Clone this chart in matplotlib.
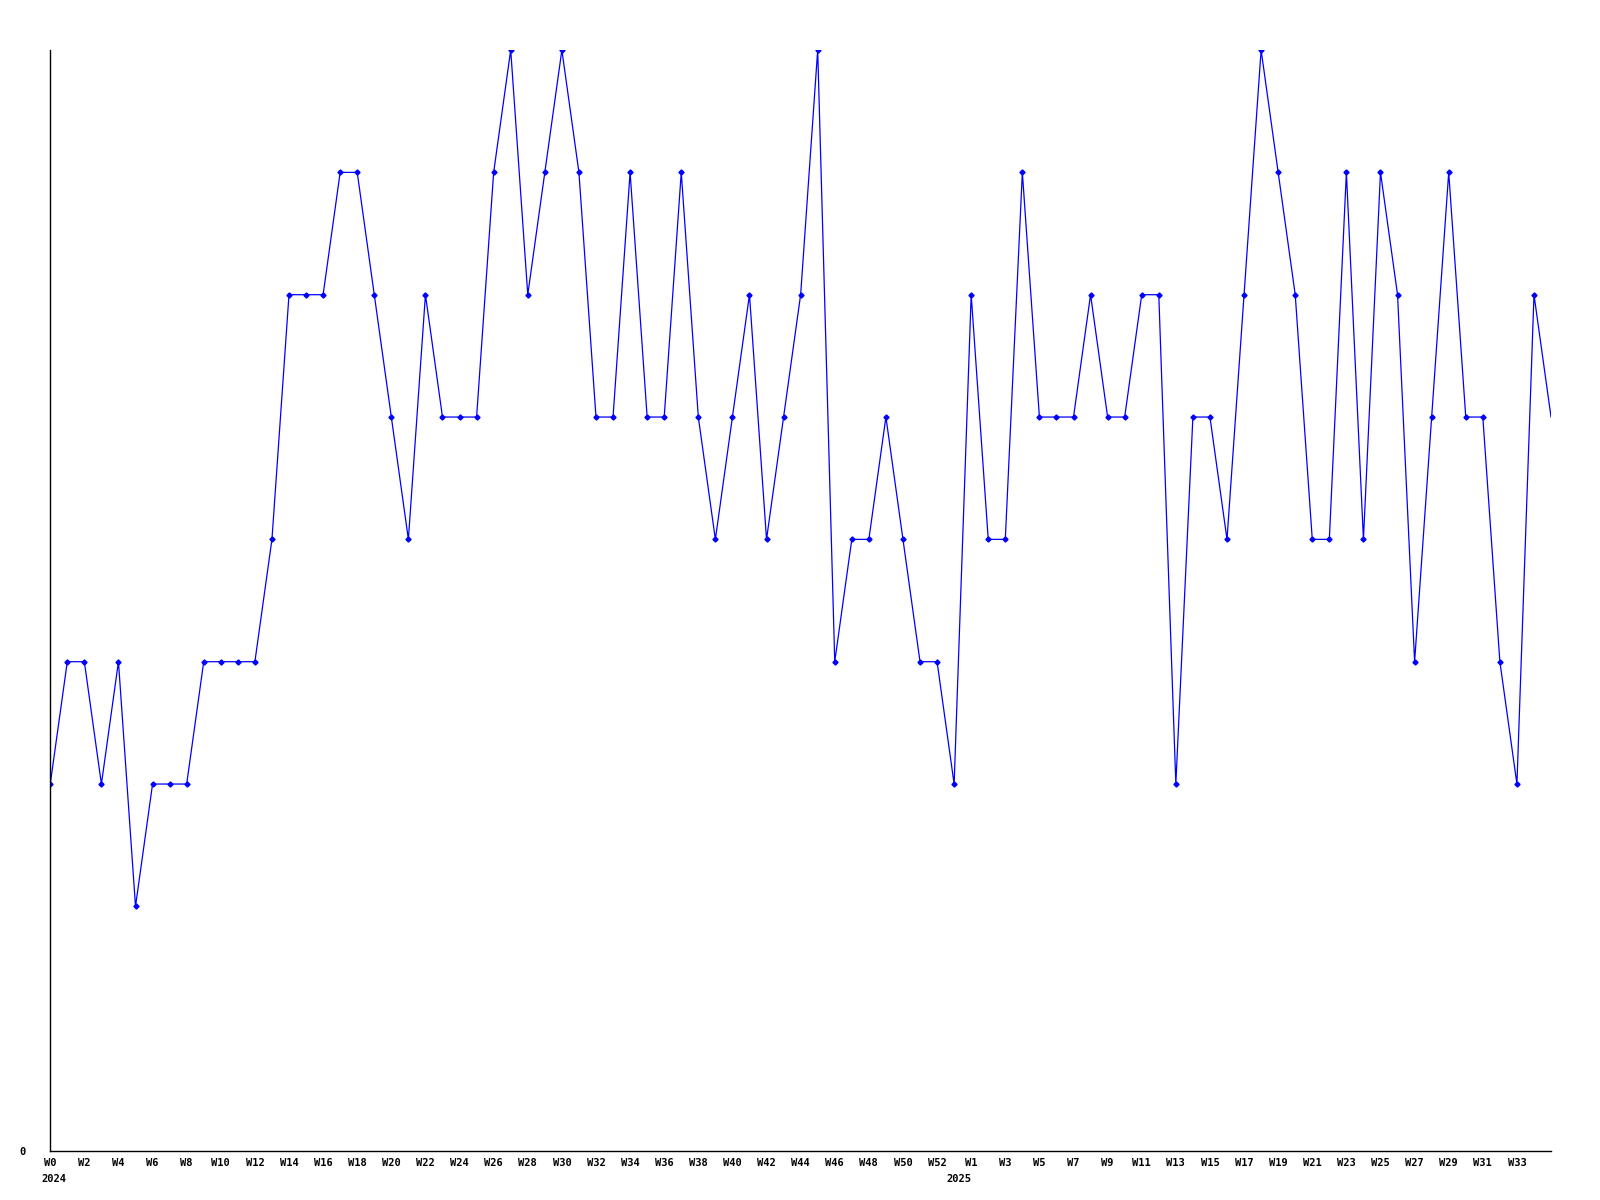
import matplotlib
matplotlib.use("Agg")
import matplotlib.pyplot as plt

# weekly values (index 0 = W0 2024 ... index 88 = W35 2025)
values = [3, 4, 4, 3, 4, 2, 3, 3, 3, 4, 4, 4, 4, 5, 7, 7, 7, 8, 8, 7,
          6, 5, 7, 6, 6, 6, 8, 9, 7, 8, 9, 8, 6, 6, 8, 6, 6, 8, 6, 5,
          6, 7, 5, 6, 7, 9, 4, 5, 5, 6, 5, 4, 4, 3, 7, 5, 5, 8, 6, 6,
          6, 7, 6, 6, 7, 7, 3, 6, 6, 5, 7, 9, 8, 7, 5, 5, 8, 5, 8, 7,
          4, 6, 8, 6, 6, 4, 3, 7, 6]

tick_positions = list(range(0, 53, 2)) + list(range(54, 87, 2))
tick_labels = [f"W{i}" for i in range(0, 53, 2)] + [f"W{i}" for i in range(1, 34, 2)]
year_labels = ["2024", "2025"]
year_positions = [0.2, 53.3]

fig = plt.figure(figsize=(16, 12), dpi=100)
ax = fig.add_axes([0.0314, 0.0408, 0.9694 - 0.0314, 0.9583 - 0.0408])

x = list(range(len(values)))
ax.plot(x, values, color="#0000FF", linewidth=0.9, marker="D", markersize=2.6,
        markevery=slice(0, len(values) - 1), markerfacecolor="#0000FF",
        markeredgecolor="#0000FF")

ax.set_xlim(0, len(values) - 1)
ax.set_ylim(0, 9)

for s in ["top", "right"]:
    ax.spines[s].set_visible(False)
for s in ["left", "bottom"]:
    ax.spines[s].set_color("black")
    ax.spines[s].set_linewidth(1.0)

font = dict(family="DejaVu Sans Mono", weight="bold", size=7.5)
ax.set_xticks(tick_positions)
ax.set_xticklabels(tick_labels, **font)
ax.set_yticks([0])
ax.set_yticklabels(["0"], **font)
ax.tick_params(axis="x", length=0, pad=5)
ax.tick_params(axis="y", length=0, pad=18)

for lab, pos in zip(year_labels, year_positions):
    ax.annotate(lab, xy=(pos, 0), xycoords=("data", "axes fraction"),
                xytext=(0, -20), textcoords="offset points",
                ha="center", va="center", **font)

fig.savefig("out.png", dpi=100, facecolor="white")
